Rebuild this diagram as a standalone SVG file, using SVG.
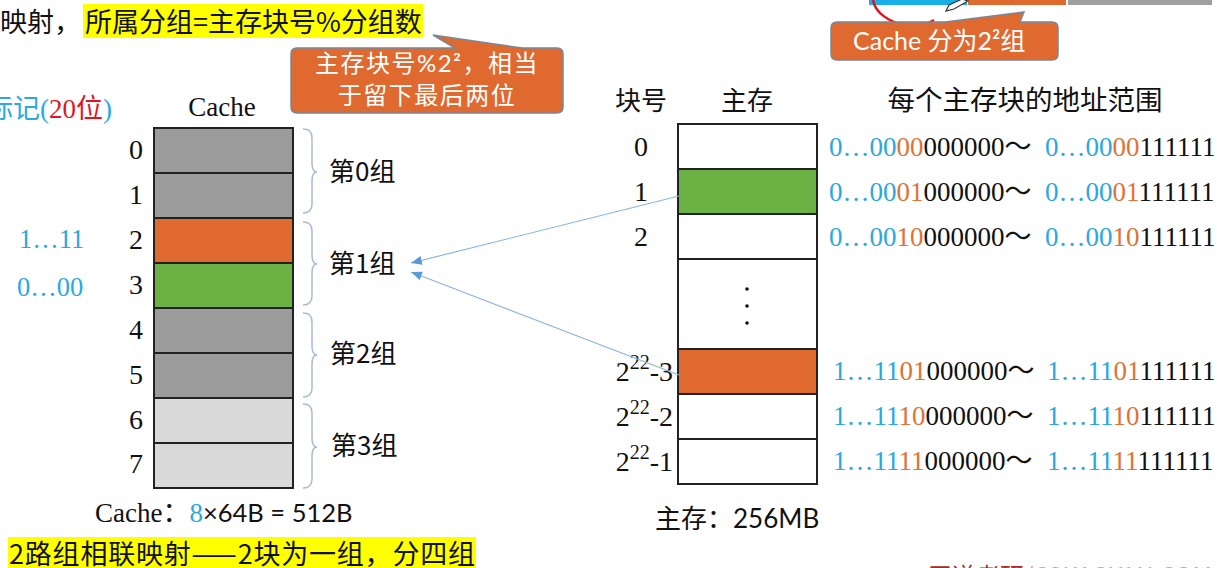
<svg xmlns="http://www.w3.org/2000/svg" width="1228" height="568" viewBox="0 0 1228 568">
<defs>
<style>
.s{font-family:"Liberation Serif","Noto Sans CJK SC",serif;}
.c{font-family:"Noto Sans CJK SC",sans-serif;}
.l{font-family:Lato,"Noto Sans CJK SC",sans-serif;}
.blue{fill:#2AA9E0;}
.org{fill:#DE7434;}
.red{fill:#E0141E;}
.cell{stroke:#222;stroke-width:2;}
.brace{fill:none;stroke:#A9BCD3;stroke-width:1.5;}
.conn{stroke:#8EB4DC;stroke-width:1.2;fill:none;}
.callout{fill:#E0692F;stroke:#7A8797;stroke-width:1.5;}
</style>
<marker id="ah" markerUnits="userSpaceOnUse" markerWidth="12" markerHeight="10" refX="11" refY="4.5" orient="auto">
<path d="M0 0 L11 4.5 L0 9 Z" fill="#5B9BD5"/>
</marker>
</defs>
<rect width="1228" height="568" fill="#fff"/>

<g id="topbar">
<rect x="869" y="0" width="98" height="5" fill="#1AAFE6"/>
<rect x="968" y="0" width="98" height="5" fill="#E0692F"/>
<rect x="1068" y="0" width="144" height="5" fill="#A0A0A0"/>
<path d="M873 0 C875 12 888 22 905 25 C918 27 928 24 934 20" fill="none" stroke="#E0141E" stroke-width="2.5"/>
<path d="M946 11 L949 5 L962 -1 L968 1 L954 9 Z" fill="#fff" stroke="#333" stroke-width="1.2"/>
</g>

<g id="title">
<rect x="83" y="4" width="340" height="34" fill="#FFFF00"/>
<text class="c" x="0" y="32" font-size="27" fill="#111">映射，<tspan x="85">所属分组=主存块号%分组数</tspan></text>
</g>

<g id="callout1">
<path class="callout" d="M297 48 L455 48 L433 35 L522 48 L557 48 Q563 48 563 54 L563 107 Q563 113 557 113 L297 113 Q291 113 291 107 L291 54 Q291 48 297 48 Z"/>
<text class="c" x="427" y="72" font-size="24" fill="#fff" text-anchor="middle" letter-spacing="1.5">主存块号<tspan class="l">%2²</tspan>，相当</text>
<text class="c" x="427" y="104" font-size="24" fill="#fff" text-anchor="middle" letter-spacing="1.5">于留下最后两位</text>
</g>

<g id="callout2">
<path class="callout" d="M837 22 L945 22 L1024 12 L1020 22 L1052 22 Q1058 22 1058 28 L1058 54 Q1058 60 1052 60 L837 60 Q831 60 831 54 L831 28 Q831 22 837 22 Z"/>
<text class="l" x="853" y="50" font-size="25" fill="#fff">Cache 分为2²组</text>
</g>

<g id="tag-label">
<text class="c" x="-14" y="118" font-size="27"><tspan class="blue">标记</tspan><tspan class="blue s">(</tspan><tspan class="red s">20</tspan><tspan class="red">位</tspan><tspan class="blue s">)</tspan></text>
</g>

<g id="cache">
<text class="s" x="222" y="116" font-size="27" fill="#111" text-anchor="middle">Cache</text>
<rect class="cell" x="154" y="128" width="139" height="45" fill="#9B9B9B"/>
<rect class="cell" x="154" y="173" width="139" height="45" fill="#9B9B9B"/>
<rect class="cell" x="154" y="218" width="139" height="45" fill="#E0692F"/>
<rect class="cell" x="154" y="263" width="139" height="45" fill="#6AB244"/>
<rect class="cell" x="154" y="308" width="139" height="45" fill="#9B9B9B"/>
<rect class="cell" x="154" y="353" width="139" height="45" fill="#9B9B9B"/>
<rect class="cell" x="154" y="398" width="139" height="45" fill="#D9D9D9"/>
<rect class="cell" x="154" y="443" width="139" height="45" fill="#D9D9D9"/>
<g class="s" font-size="28" fill="#111" text-anchor="middle">
<text x="136" y="159">0</text>
<text x="136" y="204">1</text>
<text x="136" y="249">2</text>
<text x="136" y="294">3</text>
<text x="136" y="339">4</text>
<text x="136" y="384">5</text>
<text x="136" y="429">6</text>
<text x="136" y="473">7</text>
</g>
<text class="s blue" x="19" y="248" font-size="26.5">1…11</text>
<text class="s blue" x="17" y="296" font-size="26.5">0…00</text>
</g>

<g id="groups">
<path class="brace" d="M303 129 Q312 129 312 138 L312 163 Q312 172 317 172 Q312 172 312 181 L312 204 Q312 213 303 213"/>
<path class="brace" d="M303 222 Q312 222 312 231 L312 255 Q312 264 317 264 Q312 264 312 273 L312 296 Q312 305 303 305"/>
<path class="brace" d="M303 313 Q312 313 312 322 L312 346 Q312 355 317 355 Q312 355 312 364 L312 388 Q312 397 303 397"/>
<path class="brace" d="M303 404 Q312 404 312 413 L312 438 Q312 447 317 447 Q312 447 312 456 L312 479 Q312 488 303 488"/>
<g class="c" font-size="26" fill="#111">
<text x="329" y="181">第0组</text>
<text x="329" y="273">第1组</text>
<text x="330" y="363">第2组</text>
<text x="331" y="455">第3组</text>
</g>
</g>

<text id="cache-size" class="s" x="95" y="522" font-size="27" fill="#111">Cache：<tspan class="blue">8</tspan><tspan class="l" font-size="25.5">×64B = 512B</tspan></text>

<g id="bottom-note">
<rect x="8" y="537" width="468" height="31" fill="#FFFF00"/>
<text class="c" x="9" y="564" font-size="27" letter-spacing="0.8" fill="#111">2路组相联映射——2块为一组，分四组</text>
</g>

<g id="memory">
<text class="c" x="641" y="110" font-size="26" fill="#111" text-anchor="middle">块号</text>
<text class="c" x="747" y="110" font-size="26" fill="#111" text-anchor="middle">主存</text>
<text class="c" x="1025" y="110" font-size="27.5" fill="#111" text-anchor="middle">每个主存块的地址范围</text>
<rect class="cell" x="678" y="124" width="139" height="45" fill="#fff"/>
<rect class="cell" x="678" y="169" width="139" height="45" fill="#6AB244"/>
<rect class="cell" x="678" y="214" width="139" height="45" fill="#fff"/>
<rect class="cell" x="678" y="259" width="139" height="90" fill="#fff"/>
<rect class="cell" x="678" y="349" width="139" height="45" fill="#E0692F"/>
<rect class="cell" x="678" y="394" width="139" height="45" fill="#fff"/>
<rect class="cell" x="678" y="439" width="139" height="45" fill="#fff"/>
<circle cx="747" cy="289" r="1.8" fill="#111"/>
<circle cx="747" cy="306" r="1.8" fill="#111"/>
<circle cx="747" cy="323" r="1.8" fill="#111"/>
<g class="s" font-size="28" fill="#111">
<text x="641" y="156" text-anchor="middle">0</text>
<text x="641" y="201" text-anchor="middle">1</text>
<text x="641" y="246" text-anchor="middle">2</text>
<text x="673" y="381" text-anchor="end">2<tspan font-size="20" dy="-12">22</tspan><tspan dy="12">-3</tspan></text>
<text x="673" y="426" text-anchor="end">2<tspan font-size="20" dy="-12">22</tspan><tspan dy="12">-2</tspan></text>
<text x="673" y="471" text-anchor="end">2<tspan font-size="20" dy="-12">22</tspan><tspan dy="12">-1</tspan></text>
</g>
<text class="l" x="655" y="528" font-size="26" fill="#111"><tspan class="c">主存：</tspan>256MB</text>
</g>

<g id="addresses" class="s" font-size="27" fill="#111">
<text x="829" y="156"><tspan class="blue">0…00</tspan><tspan class="org">00</tspan>000000～</text>
<text x="1045" y="156"><tspan class="blue">0…00</tspan><tspan class="org">00</tspan>111111</text>
<text x="829" y="201"><tspan class="blue">0…00</tspan><tspan class="org">01</tspan>000000～</text>
<text x="1045" y="201"><tspan class="blue">0…00</tspan><tspan class="org">01</tspan>111111</text>
<text x="829" y="246"><tspan class="blue">0…00</tspan><tspan class="org">10</tspan>000000～</text>
<text x="1045" y="246"><tspan class="blue">0…00</tspan><tspan class="org">10</tspan>111111</text>
<text x="833" y="380"><tspan class="blue">1…11</tspan><tspan class="org">01</tspan>000000～</text>
<text x="1047" y="380"><tspan class="blue">1…11</tspan><tspan class="org">01</tspan>111111</text>
<text x="833" y="425"><tspan class="blue">1…11</tspan><tspan class="org">10</tspan>000000～</text>
<text x="1047" y="425"><tspan class="blue">1…11</tspan><tspan class="org">10</tspan>111111</text>
<text x="833" y="470"><tspan class="blue">1…11</tspan><tspan class="org">11</tspan>000000～</text>
<text x="1047" y="470"><tspan class="blue">1…11</tspan><tspan class="org">11</tspan>111111</text>
</g>

<g id="connectors">
<path class="conn" d="M679 196 L411 263" marker-end="url(#ah)"/>
<path class="conn" d="M679 375 L411 272" marker-end="url(#ah)"/>
</g>

<text id="watermark" class="c" x="928" y="585" font-size="24"><tspan fill="#A0302A">王道考研</tspan><tspan fill="#EE9A94">/CSKAOYAN.COM</tspan></text>
</svg>
